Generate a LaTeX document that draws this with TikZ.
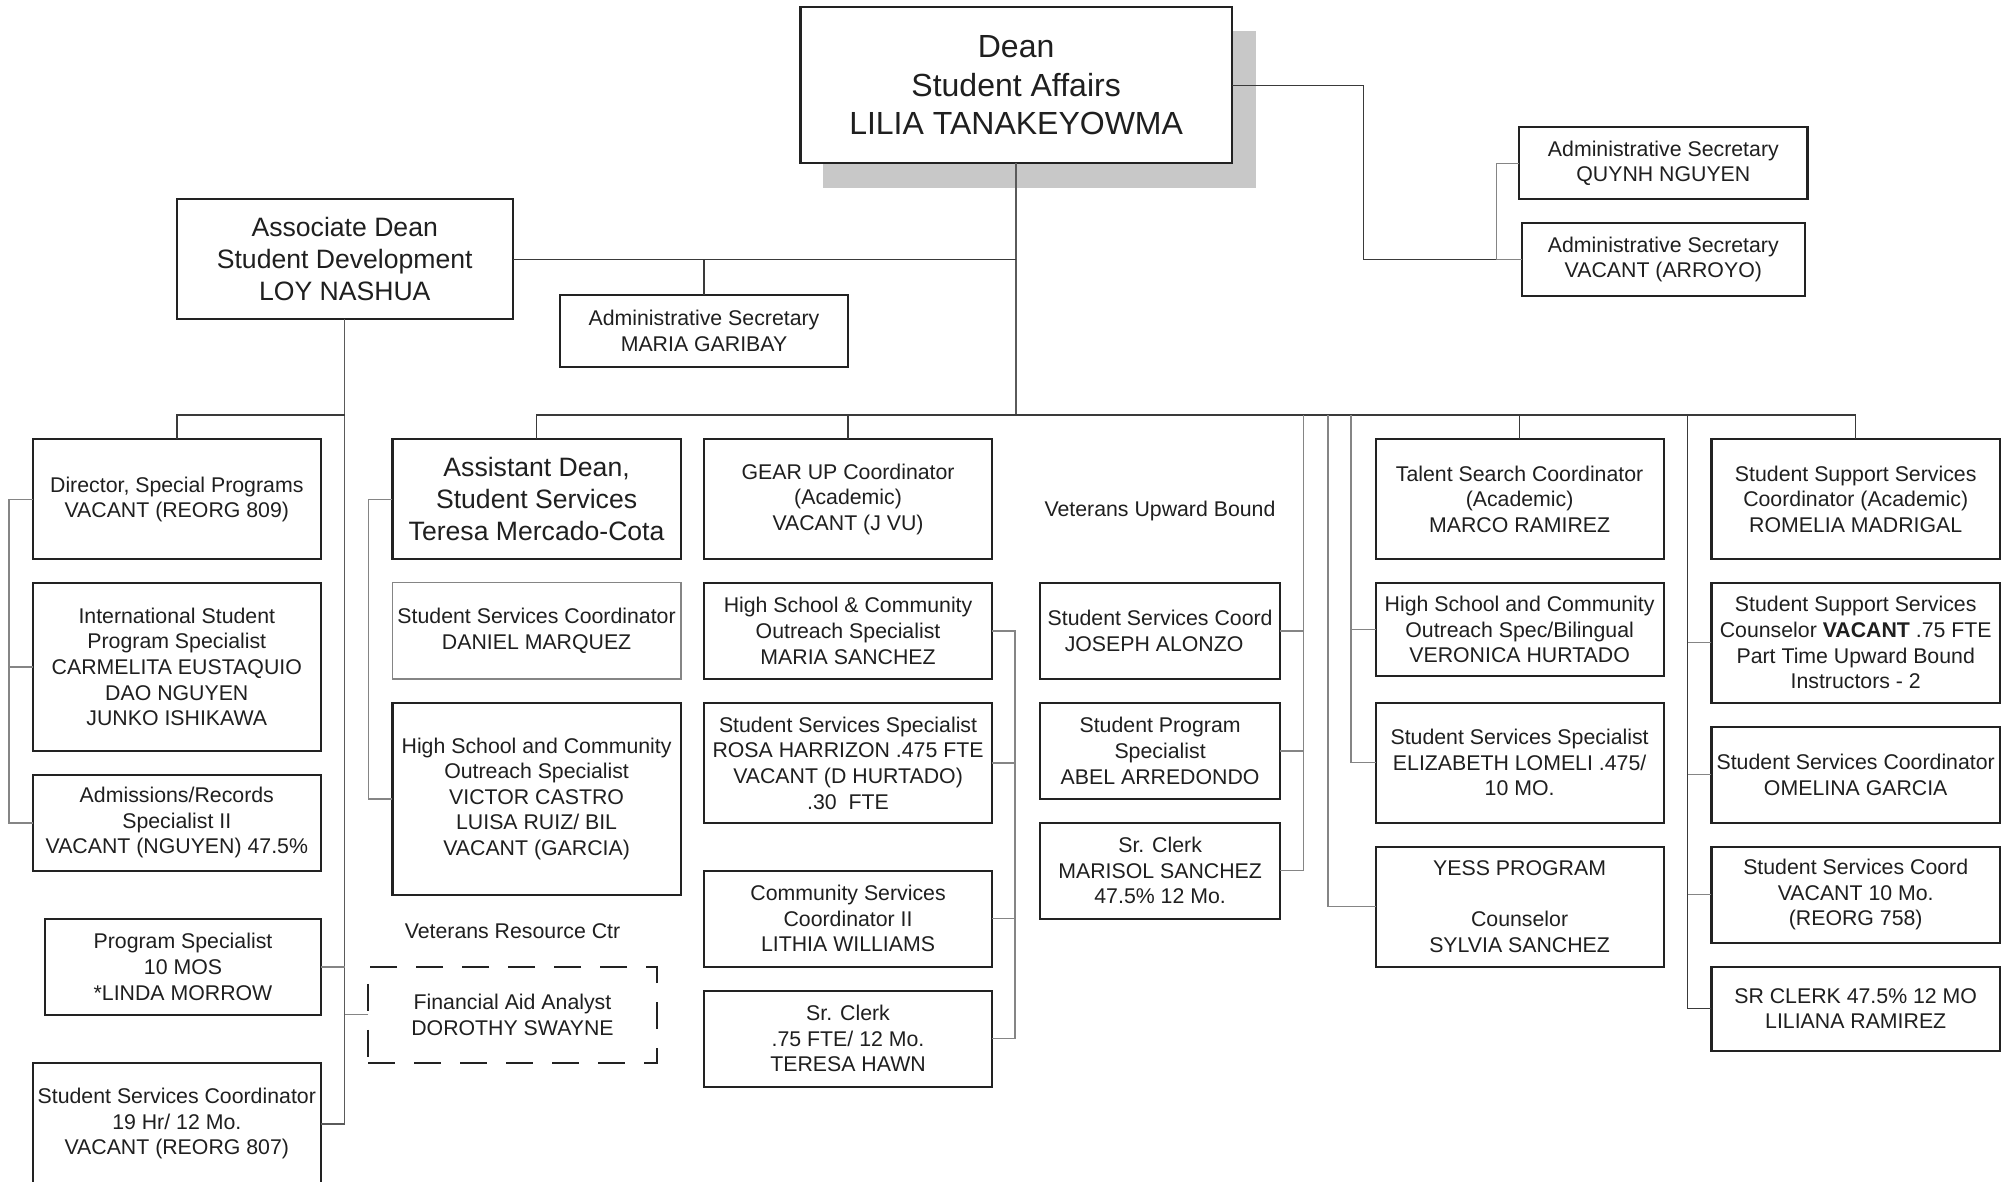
\documentclass[tikz,border=0pt]{standalone}
\usepackage{fontspec}
\setmainfont{Liberation Sans}
\definecolor{boxc}{HTML}{222222}
\definecolor{lnc}{HTML}{3A3A3A}
\definecolor{midc}{HTML}{5A5A5A}
\definecolor{brc}{HTML}{858585}
\definecolor{shadowc}{HTML}{C8C8C8}
\newcommand{\fN}{\fontsize{21.3}{25.6}\selectfont}
\newcommand{\fB}{\fontsize{26.6}{32}\selectfont}
\newcommand{\fD}{\fontsize{32}{38.3}\selectfont}
\newcommand{\bx}[7][]{\node[box,#1,minimum width={#5pt-#3pt},minimum height={#6pt-#4pt}] (#2) at ({(#3+#5)/2},{(#4+#6)/2}) {#7};}
\begin{document}
\begin{tikzpicture}[x=1pt,y=-1pt,
  box/.style={draw=boxc, line width=2.2pt, fill=white, align=center, inner sep=0pt, outer sep=0pt, font=\fN, text=black!88},
  lightbox/.style={draw=brc, line width=1.5pt},
  dashbox/.style={dash pattern=on 27pt off 19pt, fill=none},
  ln/.style={draw=lnc, line width=1.4pt},
  mid/.style={draw=midc, line width=1.4pt},
  br/.style={draw=brc, line width=1.4pt},
  lbl/.style={font=\fN, text=black!88, inner sep=0pt}]
\fill[white] (0,0) rectangle (2004,1181);
\useasboundingbox (0,0) rectangle (2004,1181);
% shadow of the dean box
\fill[shadowc] (822.7,31) rectangle (1256,188.3);
% boxes
\bx[font=\fD]{dean}{800.4}{7.3}{1231.8}{163.3}{Dean\\Student Affairs\\LILIA TANAKEYOWMA}
\bx[font=\fB]{assoc}{176.7}{199.3}{512.8}{319.3}{Associate Dean\\Student Development\\LOY NASHUA}
\bx{garibay}{560}{295}{848}{367.3}{Administrative Secretary\\MARIA GARIBAY}
\bx{quynh}{1519.3}{127.3}{1807.4}{199.3}{Administrative Secretary\\QUYNH NGUYEN}
\bx{arroyo}{1521.8}{223}{1804.8}{295.7}{Administrative Secretary\\VACANT (ARROYO)}
\bx{director}{32.6}{439.3}{321}{559.3}{Director, Special Programs\\VACANT (REORG 809)}
\bx{intl}{32.6}{582.7}{321}{751}{International Student\\Program Specialist\\CARMELITA EUSTAQUIO\\DAO NGUYEN\\JUNKO ISHIKAWA}
\bx{admis}{32.6}{775}{321}{870.7}{Admissions/Records\\Specialist II\\VACANT (NGUYEN) 47.5\%}
\bx{progspec}{45}{918.7}{321}{1015}{Program Specialist\\10 MOS\\*LINDA MORROW}
\bx{ssc19}{32.6}{1062.7}{321}{1185}{Student Services Coordinator\\19 Hr/ 12 Mo.\\VACANT (REORG 807)}
\bx[font=\fB]{asst}{392.4}{439.3}{680.8}{559.3}{Assistant Dean,\\Student Services\\Teresa Mercado-Cota}
\bx[lightbox]{daniel}{392.4}{582.7}{680.8}{679}{Student Services Coordinator\\DANIEL MARQUEZ}
\bx{hsc}{392.4}{702.7}{680.8}{895}{High School and Community\\Outreach Specialist\\VICTOR CASTRO\\LUISA RUIZ/ BIL\\VACANT (GARCIA)}
\bx[dashbox]{finaid}{368.3}{966.7}{656.7}{1062.7}{Financial Aid Analyst\\DOROTHY SWAYNE}
\bx{gear}{703.9}{439.3}{992.2}{559.3}{GEAR UP Coordinator\\(Academic)\\VACANT (J VU)}
\bx{maria}{703.9}{582.7}{992.2}{679}{High School \& Community\\Outreach Specialist\\MARIA SANCHEZ}
\bx{rosa}{703.9}{702.7}{992.2}{823.3}{Student Services Specialist\\ROSA HARRIZON .475 FTE\\VACANT (D HURTADO)\\.30\ \ FTE}
\bx{community}{703.9}{870.7}{992.2}{966.7}{Community Services\\Coordinator II\\LITHIA WILLIAMS}
\bx{hawn}{703.9}{990.7}{992.2}{1086.7}{Sr. Clerk\\.75 FTE/ 12 Mo.\\TERESA HAWN}
\bx{joseph}{1040}{582.7}{1280.2}{679}{Student Services Coord\\JOSEPH ALONZO\hspace*{12pt}}
\bx{abel}{1040}{702.7}{1280.2}{799}{Student Program\\Specialist\\ABEL ARREDONDO}
\bx{marisol}{1040}{822.7}{1280.2}{918.7}{Sr. Clerk\\MARISOL SANCHEZ\\47.5\% 12 Mo.}
\bx{talent}{1375.6}{439.3}{1663.6}{559.3}{Talent Search Coordinator\\(Academic)\\MARCO RAMIREZ}
\bx{veronica}{1375.6}{582.7}{1663.6}{676.3}{High School and Community\\Outreach Spec/Bilingual\\VERONICA HURTADO}
\bx{elizabeth}{1375.6}{702.7}{1663.6}{822.7}{Student Services Specialist\\ELIZABETH LOMELI .475/\\10 MO.}
\bx{yess}{1375.6}{846.7}{1663.6}{966.7}{YESS PROGRAM\\[25.6pt]Counselor\\SYLVIA SANCHEZ}
\bx{sss}{1711.4}{439.3}{2000}{559.3}{Student Support Services\\Coordinator (Academic)\\ROMELIA MADRIGAL}
\bx{counsel}{1711.4}{582.7}{2000}{702.7}{Student Support Services\\Counselor \textbf{VACANT} .75 FTE\\Part Time Upward Bound\\Instructors - 2}
\bx{omelina}{1711.4}{726.7}{2000}{822.7}{Student Services Coordinator\\OMELINA GARCIA}
\bx{sscv}{1711.4}{846.7}{2000}{942.7}{Student Services Coord\\VACANT 10 Mo.\\(REORG 758)}
\bx{liliana}{1711.4}{966.7}{2000}{1050.7}{SR CLERK 47.5\% 12 MO\\LILIANA RAMIREZ}
% free labels
\node[lbl] (vub) at (1160,510.5) {Veterans Upward Bound};
\node[lbl] (vrc) at (512.5,931) {Veterans Resource Ctr};
% bus coordinates
\coordinate (bus) at (0,415);
\coordinate (gx) at (1014.8,0);
\coordinate (vx) at (1303.6,415);
\coordinate (yx) at (1327.9,415);
\coordinate (tx) at (1351,415);
\coordinate (sx) at (1687.7,415);
% top level
\draw[mid] (dean.south) -- (dean.south |- bus);
\draw[ln] (dean.east) -- ++(131.9,0) |- (arroyo.west);
\draw[br] (quynh.west) -- ++(-23.1,0) |- (arroyo.west);
\draw[ln] (assoc.east) -- (assoc.east -| dean.south);
\draw[ln] (garibay.north) -- (garibay.north |- assoc.east);
% main bus
\draw[ln] (asst.north) -- (asst.north |- bus) -- (sss.north |- bus) -- (sss.north);
\draw[ln] (gear.north) -- (gear.north |- bus);
\draw[ln] (talent.north) -- (talent.north |- bus);
% associate dean group
\draw[mid] (assoc.south) -- (assoc.south |- ssc19.east) -- (ssc19.east);
\draw[ln] (director.north) |- (assoc.south |- bus);
\draw[br] (progspec.east) -- (progspec.east -| assoc.south);
\draw[br] (finaid.west) -- (finaid.west -| assoc.south);
\draw[br] (director.west) -- ++(-23.7,0) |- (admis.west);
\draw[br] (intl.west) -- ++(-23.7,0);
% assistant dean group
\draw[br] (asst.west) -- ++(-23.65,0) |- (hsc.west);
% gear up group
\draw[br] (maria.east) -| (gx |- hawn.east) -- (hawn.east);
\draw[br] (rosa.east) -- (rosa.east -| gx);
\draw[br] (community.east) -- (community.east -| gx);
% veterans upward bound group
\draw[br] (vx) |- (marisol.east);
\draw[br] (joseph.east) -- (joseph.east -| vx);
\draw[br] (abel.east) -- (abel.east -| vx);
% talent search group
\draw[br] (yx) |- (yess.west);
\draw[br] (tx) |- (elizabeth.west);
\draw[br] (veronica.west) -- (veronica.west -| tx);
% student support services group
\draw[ln] (sx) |- (liliana.west);
\draw[br] (counsel.west) -- (counsel.west -| sx);
\draw[br] (omelina.west) -- (omelina.west -| sx);
\draw[br] (sscv.west) -- (sscv.west -| sx);
\end{tikzpicture}
\end{document}
